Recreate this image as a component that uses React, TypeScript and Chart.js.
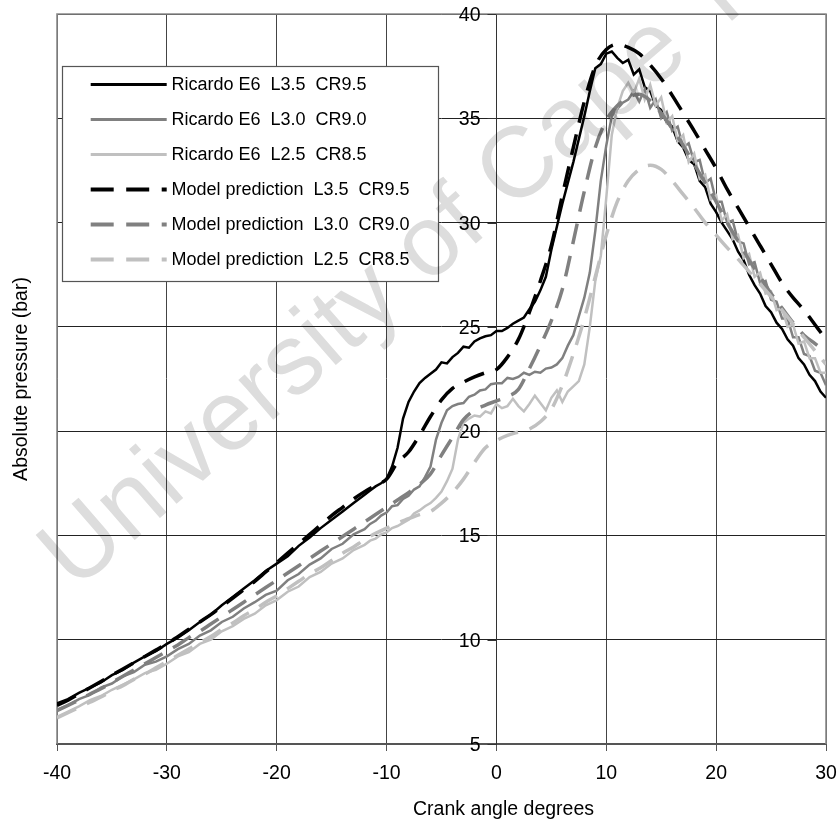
import React, { useEffect, useRef } from "react";
import { Chart, registerables } from "chart.js";

Chart.register(...registerables);

const FONT = "'Liberation Sans', Arial, Helvetica, sans-serif";

// Crank angle (degrees) for the measured (Ricardo E6) traces
const EXP_ANGLES = [
  -40, -39, -38, -37, -36, -35, -34, -33, -32, -31,
  -30, -29, -28, -27, -26, -25, -24, -23, -22, -21,
  -20, -19, -18, -17, -16, -15, -14, -13, -12,
  -11.5, -11, -10.5, -10, -9.5, -9, -8.5, -8, -7.5, -7,
  -6.5, -6, -5.5, -5, -4.5, -4, -3.5, -3, -2.5, -2,
  -1.5, -1, -0.5, 0, 0.5, 1, 1.5, 2, 2.5, 3,
  3.5, 4, 4.5, 5, 5.5, 6, 6.5, 7, 7.5, 8,
  8.5, 9, 9.5, 10, 10.5, 11, 11.5, 12, 12.5, 13,
  13.5, 14, 14.5, 15, 15.5, 16, 16.5, 17, 17.5, 18,
  18.5, 19, 19.5, 20, 20.5, 21, 21.5, 22, 22.5, 23,
  23.5, 24, 24.5, 25, 25.5, 26, 26.5, 27, 27.5, 28,
  28.5, 29, 29.5, 30,
];

// Ricardo E6 L3.5 CR9.5 (bar)
const R35 = [
  6.95, 7.15, 7.45, 7.7, 7.95, 8.3, 8.55, 8.9, 9.2, 9.45,
  9.8, 10.1, 10.45, 10.85, 11.2, 11.65, 12.05, 12.45, 12.85, 13.3,
  13.65, 14.0, 14.5, 14.9, 15.35, 15.75, 16.15, 16.55, 16.95,
  17.15, 17.35, 17.5, 17.7, 18.3, 19.2, 20.6, 21.4, 21.9, 22.3,
  22.55, 22.75, 22.95, 23.3, 23.25, 23.55, 23.75, 24.05, 24.0, 24.3,
  24.45, 24.55, 24.6, 24.8, 24.8, 24.95, 25.15, 25.3, 25.45, 25.85,
  26.2, 26.75, 27.4, 28.7, 29.8, 30.9, 31.9, 32.9, 34.0, 35.1,
  36.3, 37.4, 37.6, 38.1, 38.2, 37.9, 37.65, 37.8, 37.1, 37.35,
  36.5, 36.3, 35.6, 35.4, 34.8, 34.6, 33.9, 33.6, 33.0, 32.8,
  32.0, 31.7, 30.9, 30.5, 30.0, 29.6, 29.2, 28.6, 28.2, 27.5,
  27.0, 26.6, 26.0, 25.7, 25.2, 24.9, 24.4, 24.1, 23.5, 23.2,
  22.7, 22.4, 21.9, 21.6,
];

// Ricardo E6 L3.0 CR9.0 (bar)
const R30 = [
  6.65, 6.85, 7.15, 7.35, 7.7, 7.9, 8.25, 8.45, 8.8, 8.95,
  9.2, 9.55, 9.8, 10.2, 10.45, 10.85, 11.1, 11.5, 11.8, 12.15,
  12.35, 12.85, 13.15, 13.6, 13.9, 14.35, 14.6, 15.05, 15.3,
  15.55, 15.7, 15.95, 16.1, 16.4, 16.45, 16.75, 16.9, 17.2, 17.35,
  17.8, 18.3, 19.6, 20.4, 21.0, 21.2, 21.3, 21.35, 21.65, 21.75,
  21.95, 22.0, 22.25, 22.3, 22.3, 22.55, 22.5, 22.6, 22.8, 22.7,
  22.85, 22.8, 23.0, 23.05, 23.2, 23.5, 24.1, 24.6, 25.5, 26.4,
  27.6, 29.6, 32.0, 33.7, 35.1, 35.45, 35.75, 35.9, 36.3, 35.8,
  36.4, 35.5, 35.9, 35.0, 35.3, 34.4, 34.6, 33.6, 33.8, 32.9,
  33.0, 31.9, 32.1, 31.0, 31.0, 30.0, 30.1, 29.1, 29.0, 28.0,
  28.1, 27.1, 27.2, 26.3, 26.2, 25.4, 25.4, 24.5, 24.5, 23.7,
  23.6, 22.9, 22.8, 22.2,
];

// Ricardo E6 L2.5 CR8.5 (bar)
const R25 = [
  6.3, 6.55, 6.8, 7.1, 7.3, 7.6, 7.85, 8.1, 8.4, 8.55,
  8.85, 9.2, 9.4, 9.8, 10.0, 10.4, 10.65, 11.0, 11.25, 11.65,
  11.9, 12.3, 12.55, 13.0, 13.25, 13.65, 13.9, 14.3, 14.55,
  14.75, 14.85, 15.05, 15.15, 15.35, 15.45, 15.6, 15.75, 16.05, 16.2,
  16.4, 16.55, 16.8, 17.1, 17.6, 18.2, 19.6, 20.4, 20.6, 20.75,
  20.7, 20.95, 20.85, 21.3, 21.1, 21.2, 21.55, 21.2, 20.95, 21.3,
  21.7, 21.35, 21.0, 21.6, 21.95, 21.4, 21.9, 22.15, 22.4, 23.2,
  25.0, 27.2, 28.4, 31.2, 34.2, 35.5, 36.3, 36.7, 36.2, 36.9,
  35.9, 36.6, 35.6, 36.0, 34.8, 35.1, 33.9, 34.2, 32.9, 33.3,
  32.1, 32.3, 31.1, 31.3, 30.1, 30.4, 29.2, 29.4, 28.3, 28.5,
  27.4, 27.6, 26.6, 26.7, 25.8, 25.9, 25.0, 25.1, 24.2, 24.3,
  23.5, 23.5, 22.8, 22.8,
];

// Crank angle (degrees) for the model predictions
const MODEL_ANGLES = [
  -40, -39, -38, -37, -36, -35, -34, -33, -32, -31,
  -30, -29, -28, -27, -26, -25, -24, -23, -22, -21,
  -20, -19, -18, -17, -16, -15, -14, -13, -12, -11,
  -10, -9, -8, -7, -6, -5, -4, -3, -2, -1,
  0, 1, 2, 3, 4, 5, 6, 7, 8, 9,
  10, 11, 12, 13, 14, 15, 16, 17, 18, 19,
  20, 21, 22, 23, 24, 25, 26, 27, 28, 29,
  30,
];

// Model prediction L3.5 CR9.5 (bar)
const M35 = [
  6.85, 7.1, 7.4, 7.7, 8.0, 8.3, 8.6, 8.9, 9.2, 9.5,
  9.8, 10.15, 10.5, 10.85, 11.2, 11.6, 12.0, 12.4, 12.8, 13.25,
  13.7, 14.15, 14.6, 15.05, 15.5, 15.95, 16.35, 16.75, 17.1, 17.4,
  17.7, 18.5, 19.0, 19.8, 20.7, 21.5, 22.05, 22.35, 22.6, 22.8,
  22.95, 23.55, 24.4, 25.7, 27.2, 28.9, 31.3, 33.6, 35.8, 37.5,
  38.3, 38.55, 38.4, 38.1, 37.55, 36.9, 36.1, 35.25, 34.4, 33.5,
  32.6, 31.6, 30.7, 29.8, 28.9, 28.0, 27.1, 26.4, 25.8, 25.1,
  24.4,
];

// Model prediction L3.0 CR9.0 (bar)
const M30 = [
  6.6, 6.85, 7.1, 7.4, 7.65, 7.95, 8.25, 8.55, 8.85, 9.15,
  9.45, 9.75, 10.1, 10.4, 10.75, 11.1, 11.45, 11.8, 12.15, 12.5,
  12.85, 13.2, 13.55, 13.9, 14.25, 14.6, 14.95, 15.3, 15.65, 16.0,
  16.35, 16.7, 17.05, 17.45, 17.95, 18.85, 19.7, 20.55, 21.0, 21.25,
  21.45, 21.65, 22.0, 23.0, 24.1, 25.3, 26.8, 29.1, 31.5, 33.6,
  34.9, 35.6, 36.0, 36.15, 35.85, 35.25, 34.5, 33.7, 32.8, 31.9,
  31.0, 30.0, 29.1, 28.2, 27.4, 26.6, 25.9, 25.2, 24.6, 24.2,
  23.8,
];

// Model prediction L2.5 CR8.5 (bar)
const M25 = [
  6.25, 6.5, 6.75, 7.0, 7.25, 7.55, 7.8, 8.1, 8.35, 8.65,
  8.95, 9.25, 9.55, 9.85, 10.15, 10.5, 10.8, 11.15, 11.45, 11.8,
  12.1, 12.45, 12.8, 13.15, 13.45, 13.8, 14.15, 14.45, 14.8, 15.1,
  15.35, 15.6, 15.8, 16.0, 16.15, 16.55, 17.05, 17.7, 18.5, 19.2,
  19.55, 19.8, 19.95, 20.1, 20.45, 21.05, 22.2, 23.7, 25.4, 27.4,
  29.4, 31.0, 32.0, 32.55, 32.75, 32.55, 32.0, 31.35, 30.7, 30.0,
  29.4, 28.8, 28.25, 27.65, 27.05, 26.45, 25.8, 25.15, 24.5, 23.85,
  23.2,
];

const X_TICKS = [-40, -30, -20, -10, 0, 10, 20, 30];
const Y_TICKS = [5, 10, 15, 20, 25, 30, 35, 40];

const LABELS = [
  "Ricardo E6  L3.5  CR9.5",
  "Ricardo E6  L3.0  CR9.0",
  "Ricardo E6  L2.5  CR8.5",
  "Model prediction  L3.5  CR9.5",
  "Model prediction  L3.0  CR9.0",
  "Model prediction  L2.5  CR8.5",
];

const X_TITLE = "Crank angle degrees";
const Y_TITLE = "Absolute pressure (bar)";
const WATERMARK = "University of Cape Town";

const BLACK = "#000000";
const GRAY = "#808080";
const LIGHT = "#c0c0c0";
const DASH = [21, 12];

function pts(xs: number[], ys: number[]) {
  return xs.map((x, i) => ({ x, y: ys[i] }));
}

const SERIES = [
  { label: LABELS[0], data: pts(EXP_ANGLES, R35), color: BLACK, dashed: false },
  { label: LABELS[1], data: pts(EXP_ANGLES, R30), color: GRAY, dashed: false },
  { label: LABELS[2], data: pts(EXP_ANGLES, R25), color: LIGHT, dashed: false },
  { label: LABELS[3], data: pts(MODEL_ANGLES, M35), color: BLACK, dashed: true },
  { label: LABELS[4], data: pts(MODEL_ANGLES, M30), color: GRAY, dashed: true },
  { label: LABELS[5], data: pts(MODEL_ANGLES, M25), color: LIGHT, dashed: true },
];

const overlayPlugin = {
  id: "overlay",
  beforeDatasetsDraw(chart: any) {
    const { ctx, chartArea: a, scales } = chart;
    ctx.save();
    ctx.strokeStyle = "#8a8a8a";
    ctx.lineWidth = 1.6;
    ctx.beginPath();
    ctx.moveTo(a.left, a.bottom);
    ctx.lineTo(a.left, a.top);
    ctx.lineTo(a.right, a.top);
    ctx.lineTo(a.right, a.bottom);
    ctx.stroke();
    // y-axis tick marks and labels at x = 0
    const x0 = Math.round(scales.x.getPixelForValue(0)) + 0.5;
    ctx.strokeStyle = "#333";
    ctx.lineWidth = 1;
    ctx.fillStyle = "#000";
    ctx.font = `19.5px ${FONT}`;
    ctx.textAlign = "right";
    ctx.textBaseline = "middle";
    Y_TICKS.forEach((v) => {
      const y = Math.round(scales.y.getPixelForValue(v)) + 0.5;
      ctx.beginPath();
      ctx.moveTo(x0 - 9, y);
      ctx.lineTo(x0, y);
      ctx.stroke();
      ctx.fillText(String(v), x0 - 16, y + 1);
    });
    // x-axis tick labels
    ctx.textAlign = "center";
    X_TICKS.forEach((v) => {
      const x = scales.x.getPixelForValue(v);
      ctx.fillText(String(v), x, a.bottom + 30);
    });
    ctx.restore();
  },
  afterDatasetsDraw(chart: any) {
    const { ctx } = chart;
    ctx.save();
    // legend box
    const bx = 62, by = 66, bw = 376, bh = 215;
    ctx.fillStyle = "#ffffff";
    ctx.fillRect(bx, by, bw, bh);
    ctx.strokeStyle = "#555555";
    ctx.lineWidth = 1.2;
    ctx.strokeRect(bx + 0.5, by + 0.5, bw, bh);
    ctx.font = `18px ${FONT}`;
    ctx.textBaseline = "middle";
    ctx.textAlign = "left";
    SERIES.forEach((s, i) => {
      const y = 84.5 + i * 35;
      ctx.beginPath();
      ctx.strokeStyle = s.color;
      ctx.lineWidth = s.dashed ? 4 : 3;
      ctx.setLineDash(s.dashed ? [23, 12.5] : []);
      ctx.moveTo(90.7, y);
      ctx.lineTo(166.7, y);
      ctx.stroke();
      ctx.setLineDash([]);
      ctx.fillStyle = "#000";
      ctx.fillText(s.label, 171.5, y + 1);
    });
    ctx.restore();
  },
  afterDraw(chart: any) {
    const { ctx } = chart;
    ctx.save();
    ctx.fillStyle = "#000";
    ctx.font = `19.5px ${FONT}`;
    ctx.textAlign = "center";
    ctx.textBaseline = "middle";
    ctx.fillText(X_TITLE, 503.5, 810);
    ctx.translate(22, 379);
    ctx.rotate(-Math.PI / 2);
    ctx.fillText(Y_TITLE, 0, 0);
    ctx.restore();

    ctx.save();
    ctx.globalCompositeOperation = "multiply";
    ctx.fillStyle = "#dddddd";
    ctx.font = `100px ${FONT}`;
    ctx.textAlign = "left";
    ctx.textBaseline = "alphabetic";
    ctx.translate(75, 592);
    ctx.rotate((-41 * Math.PI) / 180);
    ctx.fillText(WATERMARK, 0, 0);
    ctx.restore();
  },
};

export default function App() {
  const ref = useRef<HTMLCanvasElement | null>(null);
  useEffect(() => {
    if (!ref.current) return;
    Chart.defaults.font.family = FONT;
    Chart.defaults.color = "#000";
    const chart = new Chart(ref.current, {
      type: "line",
      data: {
        datasets: SERIES.map((s, i) => ({
          label: s.label,
          data: s.data,
          borderColor: s.color,
          backgroundColor: s.color,
          borderWidth: s.dashed ? 3.5 : 2.5,
          borderDash: s.dashed ? DASH : [],
          pointRadius: 0,
          fill: false,
          tension: 0,
          cubicInterpolationMode: s.dashed ? "monotone" : "default",
          order: 6 - i,
        })),
      },
      options: {
        responsive: false,
        animation: false,
        devicePixelRatio: 1,
        layout: { padding: { left: 57, right: 12, top: 14, bottom: 0 } },
        plugins: { legend: { display: false }, tooltip: { enabled: false } },
        scales: {
          x: {
            type: "linear",
            position: "bottom",
            min: -40,
            max: 30,
            afterBuildTicks: (s: any) => {
              s.ticks = X_TICKS.map((v) => ({ value: v }));
            },
            afterFit: (s: any) => {
              s.height = 77;
            },
            grid: { color: "#444", lineWidth: 1, tickLength: 7, tickColor: "#555" },
            border: { display: true, color: "#555", width: 2 },
            ticks: { display: false, padding: 0 },
            title: { display: false },
          },
          y: {
            type: "linear",
            position: { x: 0 } as any,
            min: 5,
            max: 40,
            afterBuildTicks: (s: any) => {
              s.ticks = Y_TICKS.map((v) => ({ value: v }));
            },
            grid: { color: "#222", lineWidth: 1, drawTicks: false },
            border: { display: true, color: "#333", width: 1 },
            ticks: { display: false },
            title: { display: false },
          },
        },
      },
      plugins: [overlayPlugin],
    } as any);
    return () => chart.destroy();
  }, []);
  return (
    <div style={{ position: "fixed", left: 0, top: 0, width: 838, height: 821, background: "#fff" }}>
      <canvas ref={ref} width={838} height={821} style={{ display: "block" }} />
    </div>
  );
}
